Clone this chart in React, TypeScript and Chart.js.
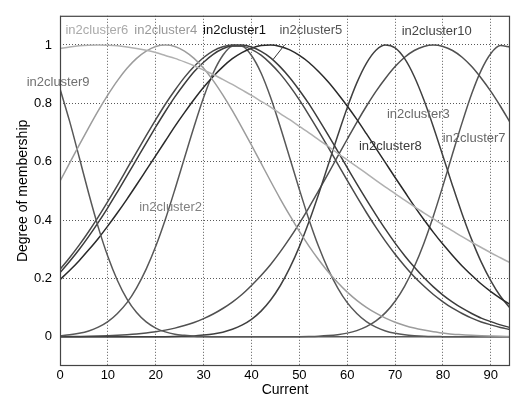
import React, { useEffect, useRef } from "react";
import { Chart, registerables } from "chart.js";

Chart.register(...registerables);

// Input variable "Current" sample points
const currentValues = [0, 2, 4, 6, 8, 10, 12, 14, 16, 18, 20, 22, 24, 26, 28, 30, 32, 34, 36, 38, 40, 42, 44, 46, 48, 50, 52, 54, 56, 58, 60, 62, 64, 66, 68, 70, 72, 74, 76, 78, 80, 82, 84, 86, 88, 90, 92, 94];

const xTicks = [0, 10, 20, 30, 40, 50, 60, 70, 80, 90];
const yTicks = [0, 0.2, 0.4, 0.6, 0.8, 1];

// Degree of membership of each cluster
const in2cluster6 = [0.988, 0.993, 0.997, 0.999, 1, 0.999, 0.997, 0.993, 0.988, 0.982, 0.974, 0.964, 0.954, 0.942, 0.929, 0.914, 0.899, 0.882, 0.865, 0.846, 0.827, 0.807, 0.787, 0.765, 0.744, 0.721, 0.699, 0.676, 0.653, 0.629, 0.606, 0.583, 0.56, 0.536, 0.513, 0.491, 0.468, 0.446, 0.425, 0.404, 0.383, 0.363, 0.343, 0.324, 0.306, 0.288, 0.271, 0.254];
const in2cluster4 = [0.533, 0.595, 0.657, 0.717, 0.775, 0.829, 0.878, 0.92, 0.954, 0.979, 0.995, 1, 0.995, 0.979, 0.954, 0.92, 0.878, 0.829, 0.775, 0.717, 0.657, 0.595, 0.533, 0.473, 0.416, 0.361, 0.311, 0.265, 0.223, 0.186, 0.153, 0.125, 0.101, 0.081, 0.064, 0.05, 0.039, 0.03, 0.023, 0.017, 0.013, 0.009, 0.007, 0.005, 0.0035, 0.0025, 0.0017, 0.0012];
const in2cluster9 = [0.85, 0.739, 0.616, 0.491, 0.375, 0.275, 0.193, 0.129, 0.083, 0.051, 0.03, 0.017, 0.009, 0.005, 0.002, 0.001, 0.0005, 0.0002, 0.0001, 0, 0, 0, 0, 0, 0, 0, 0, 0, 0, 0, 0, 0, 0, 0, 0, 0, 0, 0, 0, 0, 0, 0, 0, 0, 0, 0, 0, 0];
const in2cluster1 = [0.231, 0.271, 0.314, 0.361, 0.411, 0.464, 0.519, 0.576, 0.633, 0.689, 0.744, 0.797, 0.845, 0.889, 0.926, 0.957, 0.98, 0.994, 1, 0.997, 0.985, 0.965, 0.936, 0.901, 0.859, 0.812, 0.76, 0.706, 0.65, 0.593, 0.536, 0.48, 0.426, 0.375, 0.327, 0.283, 0.243, 0.206, 0.174, 0.145, 0.12, 0.098, 0.08, 0.064, 0.051, 0.041, 0.032, 0.025];
const in2cluster3 = [0.22, 0.258, 0.299, 0.344, 0.392, 0.443, 0.497, 0.552, 0.608, 0.664, 0.719, 0.772, 0.822, 0.867, 0.908, 0.941, 0.968, 0.987, 0.998, 1, 0.993, 0.978, 0.956, 0.925, 0.888, 0.845, 0.798, 0.746, 0.692, 0.636, 0.58, 0.524, 0.47, 0.418, 0.368, 0.321, 0.278, 0.239, 0.203, 0.171, 0.143, 0.119, 0.098, 0.08, 0.064, 0.052, 0.041, 0.032];
const in2cluster5 = [0.196, 0.227, 0.261, 0.298, 0.337, 0.38, 0.425, 0.472, 0.521, 0.571, 0.621, 0.671, 0.721, 0.768, 0.813, 0.855, 0.892, 0.925, 0.953, 0.974, 0.989, 0.998, 1, 0.995, 0.983, 0.964, 0.94, 0.909, 0.874, 0.834, 0.791, 0.745, 0.696, 0.646, 0.596, 0.546, 0.497, 0.448, 0.402, 0.358, 0.317, 0.279, 0.243, 0.211, 0.181, 0.155, 0.132, 0.111];
const in2cluster2 = [0.004, 0.007, 0.012, 0.02, 0.033, 0.052, 0.08, 0.117, 0.168, 0.232, 0.31, 0.402, 0.505, 0.613, 0.72, 0.82, 0.904, 0.964, 0.996, 0.996, 0.964, 0.904, 0.82, 0.72, 0.613, 0.505, 0.402, 0.31, 0.232, 0.168, 0.117, 0.08, 0.052, 0.033, 0.02, 0.012, 0.007, 0.004, 0.002, 0.001, 0.0006, 0.0003, 0.0001, 0, 0, 0, 0, 0];
const in2cluster8 = [0, 0, 0, 0, 0, 0, 0, 0, 0, 0, 0.0003, 0.0005, 0.001, 0.002, 0.003, 0.006, 0.01, 0.016, 0.026, 0.04, 0.06, 0.088, 0.126, 0.175, 0.236, 0.309, 0.394, 0.488, 0.588, 0.689, 0.785, 0.87, 0.937, 0.982, 1, 0.99, 0.953, 0.892, 0.812, 0.719, 0.619, 0.518, 0.421, 0.333, 0.256, 0.192, 0.139, 0.099];
const in2cluster10 = [0.0007, 0.001, 0.0014, 0.0019, 0.0027, 0.0038, 0.0053, 0.0072, 0.0097, 0.0131, 0.0174, 0.0229, 0.0298, 0.0385, 0.0492, 0.0623, 0.0781, 0.097, 0.119, 0.145, 0.176, 0.21, 0.248, 0.291, 0.338, 0.389, 0.443, 0.5, 0.558, 0.618, 0.677, 0.735, 0.79, 0.841, 0.886, 0.926, 0.958, 0.981, 0.995, 1, 0.995, 0.981, 0.958, 0.926, 0.886, 0.841, 0.79, 0.735];
const in2cluster7 = [0, 0, 0, 0, 0, 0, 0, 0, 0, 0, 0, 0, 0, 0, 0, 0, 0, 0, 0, 0, 0, 0, 0, 0, 0.0003, 0.0006, 0.0012, 0.0022, 0.0041, 0.0073, 0.0127, 0.0213, 0.0347, 0.0545, 0.0829, 0.122, 0.174, 0.24, 0.32, 0.414, 0.518, 0.627, 0.734, 0.833, 0.914, 0.971, 0.998, 0.993];

// Text labels placed on the plot (data coordinates)
const labelNames = ["in2cluster6", "in2cluster4", "in2cluster1", "in2cluster5", "in2cluster10", "in2cluster9", "in2cluster2", "in2cluster3", "in2cluster8", "in2cluster7"];
const labelX = [7.7, 22.1, 36.45, 52.4, 78.7, -0.4, 23.1, 74.85, 69.0, 86.5];
const labelY = [1.05, 1.05, 1.05, 1.05, 1.048, 0.87, 0.444, 0.762, 0.652, 0.679];
const labelColors = ["#aaaaaa", "#999999", "#111111", "#555555", "#444444", "#707070", "#808080", "#6a6a6a", "#3a3a3a", "#666666"];
// pointer from the in2cluster5 label to its curve
const pointerX = [46.9, 44.5];
const pointerY = [1.0, 0.95];

const FONT = 'Arial, "Liberation Sans", sans-serif';

const series = [
  { name: "in2cluster6", values: in2cluster6, color: "#b0b0b0" },
  { name: "in2cluster4", values: in2cluster4, color: "#9c9c9c" },
  { name: "in2cluster9", values: in2cluster9, color: "#585858" },
  { name: "in2cluster1", values: in2cluster1, color: "#4a4a4a" },
  { name: "in2cluster3", values: in2cluster3, color: "#3c3c3c" },
  { name: "in2cluster5", values: in2cluster5, color: "#2a2a2a" },
  { name: "in2cluster2", values: in2cluster2, color: "#585858" },
  { name: "in2cluster8", values: in2cluster8, color: "#404040" },
  { name: "in2cluster10", values: in2cluster10, color: "#505050" },
  { name: "in2cluster7", values: in2cluster7, color: "#555555" },
];

const overlayPlugin = {
  id: "overlay",
  afterDatasetsDraw(chart: any) {
    const { ctx, chartArea, scales } = chart;
    const xs = scales.x;
    const ys = scales.y;
    ctx.save();
    // frame
    ctx.strokeStyle = "#444";
    ctx.lineWidth = 1.2;
    ctx.strokeRect(chartArea.left + 0.5, chartArea.top + 0.5, chartArea.right - chartArea.left - 1, chartArea.bottom - chartArea.top - 1);
    // pointer line
    ctx.strokeStyle = "#333";
    ctx.lineWidth = 1;
    ctx.beginPath();
    ctx.moveTo(xs.getPixelForValue(pointerX[0]), ys.getPixelForValue(pointerY[0]));
    ctx.lineTo(xs.getPixelForValue(pointerX[1]), ys.getPixelForValue(pointerY[1]));
    ctx.stroke();
    // labels
    ctx.font = "13px " + FONT;
    ctx.textAlign = "center";
    ctx.textBaseline = "middle";
    labelNames.forEach((t, i) => {
      ctx.fillStyle = labelColors[i];
      ctx.fillText(t, xs.getPixelForValue(labelX[i]), ys.getPixelForValue(labelY[i]));
    });
    ctx.restore();
  },
};

export default function App() {
  const ref = useRef<HTMLCanvasElement | null>(null);
  useEffect(() => {
    if (!ref.current) return;
    const chart = new Chart(ref.current, {
      type: "line",
      data: {
        datasets: series.map((s) => ({
          label: s.name,
          data: currentValues.map((x, i) => ({ x, y: s.values[i] })),
          borderColor: s.color,
          backgroundColor: s.color,
          borderWidth: 1.5,
          pointRadius: 0,
          fill: false,
          cubicInterpolationMode: "monotone" as const,
        })),
      },
      options: {
        responsive: false,
        animation: false,
        devicePixelRatio: 1,
        layout: { padding: { top: 12, right: 1, left: 0, bottom: 0 } },
        plugins: { legend: { display: false }, tooltip: { enabled: false } },
        scales: {
          x: {
            type: "linear",
            min: 0,
            max: 94,
            afterBuildTicks: (a: any) => {
              a.ticks = xTicks.map((v) => ({ value: v }));
            },
            afterFit: (s: any) => {
              s.height = 33;
            },
            ticks: { padding: 2, color: "#000", font: { size: 13, family: FONT }, maxRotation: 0, autoSkip: false, callback: (v: any) => String(v) },
            grid: { color: "rgba(0,0,0,0.65)", lineWidth: 1, drawTicks: false },
            border: { display: false, dash: [1, 2] },
            title: { display: true, text: "Current", color: "#000", font: { size: 14, family: FONT }, padding: { top: 0, bottom: 0 } },
          },
          y: {
            type: "linear",
            min: -0.1,
            max: 1.1,
            afterBuildTicks: (a: any) => {
              a.ticks = yTicks.map((v) => ({ value: v }));
            },
            afterFit: (s: any) => {
              s.width = 60;
            },
            ticks: { padding: 8, color: "#000", font: { size: 13, family: FONT }, autoSkip: false, callback: (v: any) => String(Math.round(v * 10) / 10) },
            grid: { color: "rgba(0,0,0,0.65)", lineWidth: 1, drawTicks: false },
            border: { display: false, dash: [1, 2] },
            title: { display: true, text: "Degree of membership", color: "#000", font: { size: 14, family: FONT }, padding: { top: 15, bottom: 0 } },
          },
        },
      },
      plugins: [overlayPlugin],
    } as any);
    return () => chart.destroy();
  }, []);
  return (
    <div style={{ position: "fixed", left: 0, top: 0, width: 511, height: 399, background: "#fff" }}>
      <canvas ref={ref} width={511} height={399} style={{ display: "block", width: 511, height: 399 }} />
    </div>
  );
}
